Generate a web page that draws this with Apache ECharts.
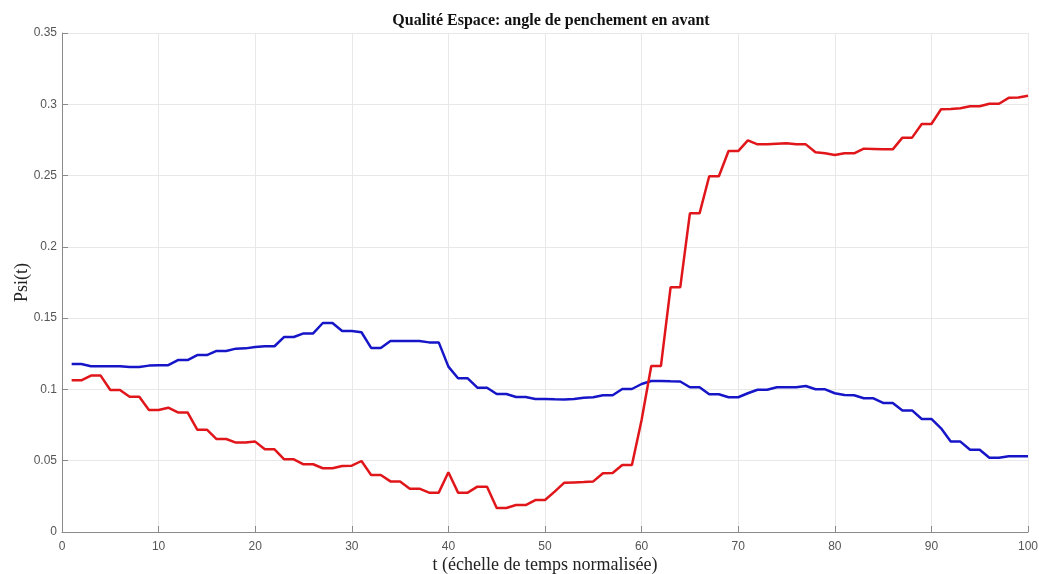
<!DOCTYPE html>
<html>
<head>
<meta charset="utf-8">
<script src="https://cdn.jsdelivr.net/npm/echarts@6/dist/echarts.min.js"></script>
<style>
  html, body {margin: 0; padding: 0; background: #fff;}
  #chart {width: 1039px; height: 574px;}
</style>
</head>
<body>
<div id="chart"></div>
<script>
// Psi(t), t = 1..100
const blue = [
  0.1178, 0.1178, 0.1162, 0.1162, 0.1162, 0.1162, 0.1157, 0.1157, 0.1167, 0.1170,
  0.1170, 0.1206, 0.1206, 0.1241, 0.1241, 0.1270, 0.1270, 0.1286, 0.1288, 0.1298,
  0.1303, 0.1303, 0.1368, 0.1368, 0.1393, 0.1393, 0.1466, 0.1466, 0.1410, 0.1410,
  0.1401, 0.1291, 0.1291, 0.1340, 0.1340, 0.1340, 0.1340, 0.1330, 0.1330, 0.1160,
  0.1078, 0.1078, 0.1012, 0.1012, 0.0968, 0.0968, 0.0947, 0.0947, 0.0933, 0.0933,
  0.0931, 0.0930, 0.0933, 0.0942, 0.0945, 0.0959, 0.0959, 0.1003, 0.1003, 0.1038,
  0.1059, 0.1059, 0.1057, 0.1056, 0.1015, 0.1015, 0.0966, 0.0966, 0.0945, 0.0945,
  0.0973, 0.0998, 0.0998, 0.1015, 0.1015, 0.1015, 0.1024, 0.1001, 0.1001, 0.0973,
  0.0961, 0.0959, 0.0938, 0.0938, 0.0905, 0.0905, 0.0853, 0.0853, 0.0793, 0.0793,
  0.0727, 0.0634, 0.0634, 0.0577, 0.0577, 0.0521, 0.0521, 0.0531, 0.0531, 0.0531
];
const red = [
  0.1064, 0.1064, 0.1097, 0.1097, 0.0996, 0.0996, 0.0949, 0.0949, 0.0856, 0.0856,
  0.0872, 0.0839, 0.0839, 0.0718, 0.0718, 0.0652, 0.0652, 0.0627, 0.0627, 0.0634,
  0.0580, 0.0580, 0.0510, 0.0510, 0.0475, 0.0475, 0.0447, 0.0447, 0.0463, 0.0465,
  0.0498, 0.0400, 0.0400, 0.0355, 0.0355, 0.0304, 0.0304, 0.0276, 0.0276, 0.0419,
  0.0276, 0.0276, 0.0318, 0.0318, 0.0168, 0.0168, 0.0189, 0.0189, 0.0224, 0.0224,
  0.0283, 0.0346, 0.0348, 0.0350, 0.0355, 0.0412, 0.0414, 0.0470, 0.0470, 0.0786,
  0.1164, 0.1164, 0.1716, 0.1716, 0.2235, 0.2235, 0.2495, 0.2495, 0.2672, 0.2672,
  0.2747, 0.2719, 0.2719, 0.2724, 0.2726, 0.2719, 0.2719, 0.2663, 0.2656, 0.2644,
  0.2656, 0.2656, 0.2689, 0.2687, 0.2684, 0.2684, 0.2766, 0.2766, 0.2862, 0.2862,
  0.2965, 0.2967, 0.2972, 0.2986, 0.2986, 0.3004, 0.3004, 0.3045, 0.3047, 0.3060
];
const t = blue.map((_, i) => i + 1);

const titleText = 'Qualité Espace: angle de penchement en avant';
const xName = 't (échelle de temps normalisée)';
const yName = 'Psi(t)';

const serif = "'Liberation Serif', 'Times New Roman', serif";
const sans = "'Liberation Sans', Arial, sans-serif";

const chart = echarts.init(document.getElementById('chart'));

const axisCommon = {
    axisLine: {show: true, lineStyle: {color: '#8a8a8a', width: 1}},
    axisTick: {show: true, inside: true, length: 6, lineStyle: {color: '#8a8a8a'}},
    axisLabel: {color: '#555', fontSize: 12, fontFamily: sans},
    splitLine: {show: true, lineStyle: {color: '#e8e8e8', width: 1}},
    nameLocation: 'middle',
    nameMoveOverlap: false,
    nameTextStyle: {fontFamily: serif, fontSize: 18, color: '#222'}
};

chart.setOption({
    animation: false,
    title: {
        text: titleText,
        left: 546,
        textAlign: 'center',
        top: 8,
        textStyle: {fontFamily: serif, fontWeight: 'bold', fontSize: 16, color: '#111'}
    },
    grid: {left: 62, right: 11, top: 33, bottom: 42, containLabel: false, outerBoundsMode: 'none'},
    xAxis: Object.assign({}, axisCommon, {
        type: 'value',
        min: 0, max: 100, interval: 10,
        name: xName,
        nameGap: 24,
        axisLabel: Object.assign({}, axisCommon.axisLabel, {margin: 9})
    }),
    yAxis: Object.assign({}, axisCommon, {
        type: 'value',
        min: 0, max: 0.35, interval: 0.05,
        name: yName,
        nameGap: 31,
        axisLabel: Object.assign({}, axisCommon.axisLabel, {margin: 5})
    }),
    series: [
        {
            type: 'line',
            data: t.map((x, i) => [x, blue[i]]),
            showSymbol: false,
            lineStyle: {color: '#1616c8', width: 2.5},
            z: 3
        },
        {
            type: 'line',
            data: t.map((x, i) => [x, red[i]]),
            showSymbol: false,
            lineStyle: {color: '#e0161b', width: 2.5},
            z: 4
        }
    ]
});
</script>
</body>
</html>
